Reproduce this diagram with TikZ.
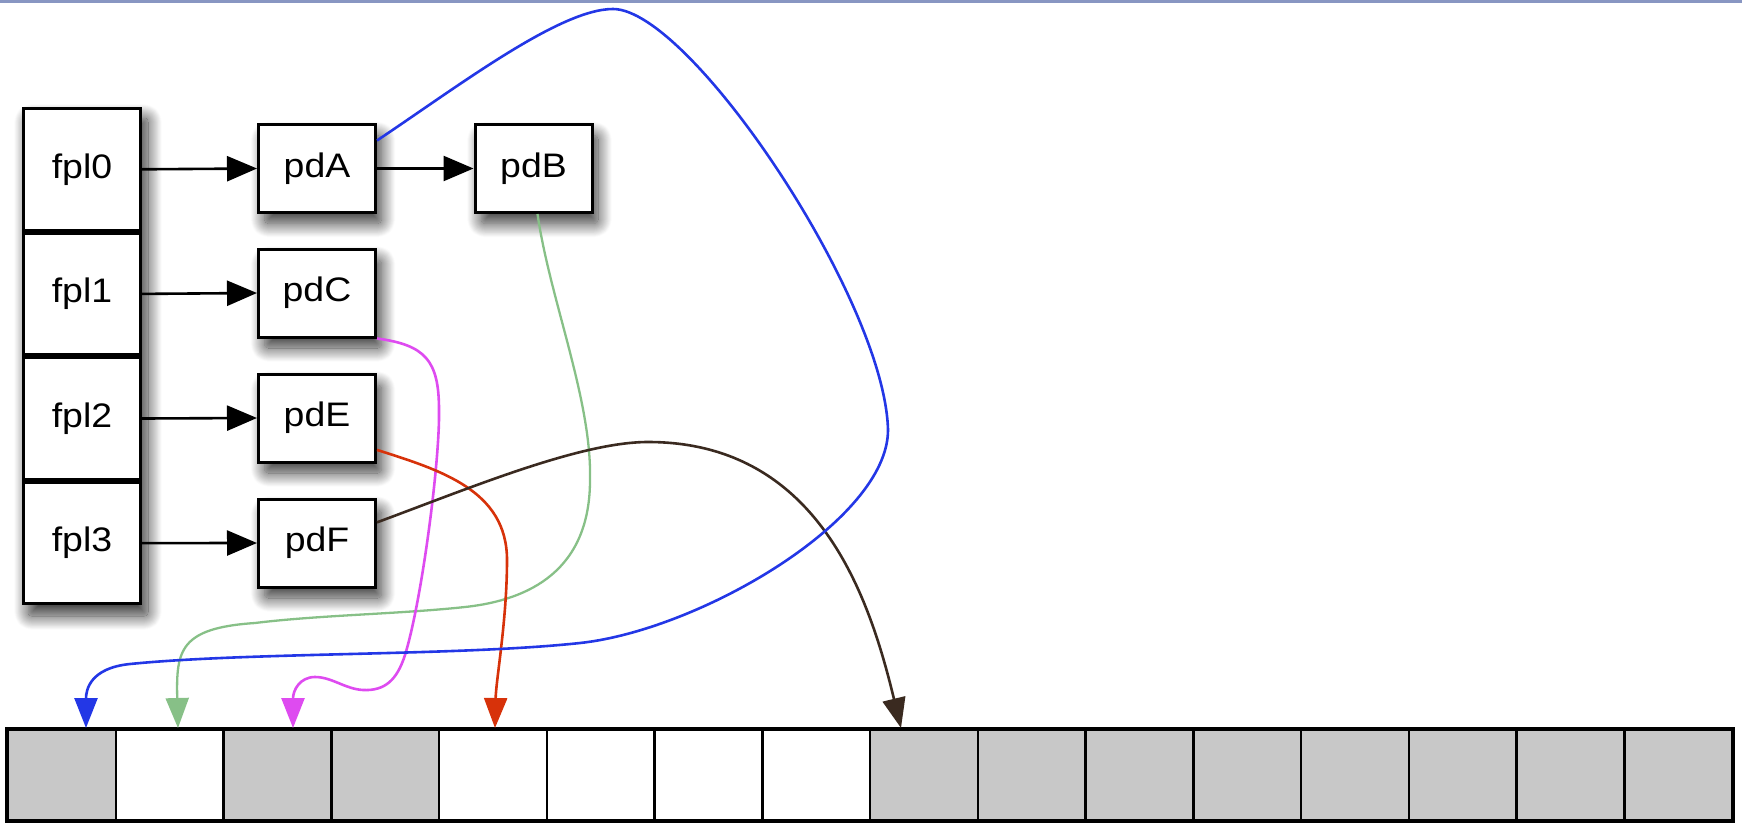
\documentclass[tikz,border=0pt]{standalone}
\usepackage{fontspec}
\setmainfont{Liberation Sans}[FakeStretch=1.1]
\usetikzlibrary{arrows.meta,shadows.blur}
\definecolor{topline}{RGB}{136,150,194}
\definecolor{cgrey}{RGB}{200,200,200}
\definecolor{cblue}{RGB}{35,55,230}
\definecolor{cgreen}{RGB}{135,192,135}
\definecolor{cmag}{RGB}{222,75,240}
\definecolor{cred}{RGB}{215,50,10}
\definecolor{cbrown}{RGB}{58,42,32}
\begin{document}
\begin{tikzpicture}[x=1pt,y=-1pt,
  shad/.style={blur shadow={shadow xshift=6pt,shadow yshift=-11pt,shadow blur radius=14pt,shadow blur steps=30,shadow opacity=80,shadow blur extra rounding=4pt}},
  box/.style={draw=black,line width=3pt,fill=white,inner sep=0pt,font=\fontsize{34}{40}\selectfont},
  fplbox/.style={box,minimum width=117pt,minimum height=121.6pt},
  pdbox/.style={box,shad,minimum width=117pt,minimum height=88pt},
  cell/.style={draw=black,line width=2.5pt,minimum width=107.75pt,minimum height=91pt,inner sep=0pt},
  link/.style={line width=2.6pt,-{Triangle[length=30pt,width=25pt]}},
  ptr/.style={line width=2.6pt,-{Triangle[length=30pt,width=23pt]}}]
\useasboundingbox (0,0) rectangle (1742,822);
\fill[topline] (0,0) rectangle (1742,2.5);

% fpl column
\node[shad,fill=white,minimum width=120pt,minimum height=498pt,inner sep=0pt] (col) at (82,356) {};
\foreach \i in {0,1,2,3}
  \node[fplbox] (fpl\i) at (82,{169.3+124.6*\i}) {fpl\i};

% pd boxes
\node[pdbox] (pdA) at (317,168.5) {pdA};
\node[pdbox] (pdB) at (533.5,168.5) {pdB};
\node[pdbox] (pdC) at (317,293) {pdC};
\node[pdbox] (pdE) at (317,418) {pdE};
\node[pdbox] (pdF) at (317,543) {pdF};

\draw[link] (fpl0.east) -- (pdA.west);
\draw[link] (pdA.east) -- (pdB.west);
\draw[link] (fpl1.east) -- (pdC.west);
\draw[link] (fpl2.east) -- (pdE.west);
\draw[link] (fpl3.east) -- (pdF.west);

% array
\foreach \i/\col in {0/cgrey,1/white,2/cgrey,3/cgrey,4/white,5/white,6/white,7/white,
  8/cgrey,9/cgrey,10/cgrey,11/cgrey,12/cgrey,13/cgrey,14/cgrey,15/cgrey}
  \node[cell,fill=\col] (c\i) at ({8+107.75*(\i+0.5)},775) {};
\draw[line width=3.5pt] (c0.north west) rectangle (c15.south east);

\coordinate (tBlue) at (86,728);
\coordinate (tGreen) at (178,728);
\coordinate (tMag) at (293,728);
\coordinate (tRed) at (495,728);
\coordinate (tBrown) at (901,728);

% pointers
\draw[ptr,cgreen,line width=2.3pt] ([xshift=4pt]pdB.south) .. controls (550,300) and (592,400) .. (590,480)
  .. controls (590,570) and (530,600) .. (465,607)
  .. controls (400,614) and (320,615) .. (255,623)
  .. controls (180,628) and (176,650) .. (tGreen);
\draw[ptr,cmag] (pdC.south east) .. controls (425,345) and (439,360) .. (439,410)
  .. controls (440,460) and (422,600) .. (405,655)
  .. controls (397,680) and (385,691) .. (363,690)
  .. controls (345,689) and (332,677) .. (315,677)
  .. controls (300,677) and (293,690) .. (tMag);
\draw[ptr,cred] (pdE.-28) .. controls (440,470) and (507,490) .. (507,560)
  .. controls (507,620) and (496,680) .. (tRed);
\draw[ptr,cbrown] (pdF.19) .. controls (470,488) and (580,442) .. (648,442)
  .. controls (820,442) and (870,600) .. (tBrown);
\draw[ptr,cblue] (pdA.25) .. controls (460,85) and (560,9) .. (613,9)
  .. controls (690,9) and (885,300) .. (888,430)
  .. controls (888,520) and (700,630) .. (580,643)
  .. controls (460,656) and (250,652) .. (130,664)
  .. controls (90,668) and (86,690) .. (tBlue);
\end{tikzpicture}
\end{document}
